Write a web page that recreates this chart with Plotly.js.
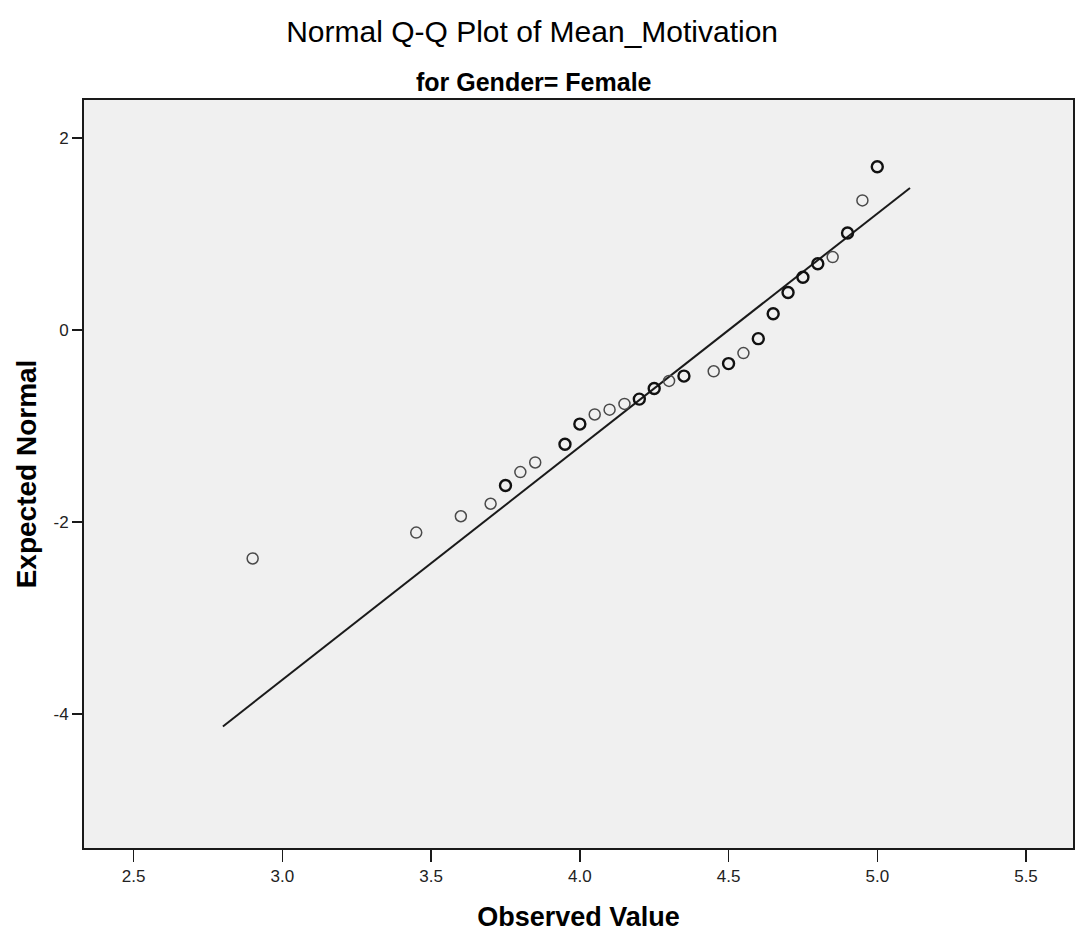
<!DOCTYPE html>
<html>
<head>
<meta charset="utf-8">
<script src="https://cdn.plot.ly/plotly-3.0.1.min.js"></script>
<style>html,body{margin:0;padding:0;background:#fff;}#chart{width:1075px;height:941px;}</style>
</head>
<body>
<div id="chart"></div>
<script>
var observed = [2.90, 3.45, 3.60, 3.70, 3.75, 3.80, 3.85, 3.95, 4.00, 4.05, 4.10, 4.15, 4.20, 4.25,
                4.30, 4.35, 4.45, 4.50, 4.55, 4.60, 4.65, 4.70, 4.75, 4.80, 4.85, 4.90, 4.95, 5.00];
var expected = [-2.38, -2.11, -1.94, -1.81, -1.62, -1.48, -1.38, -1.19, -0.98, -0.88, -0.83, -0.77, -0.72, -0.61,
                -0.53, -0.48, -0.43, -0.35, -0.24, -0.09, 0.17, 0.39, 0.55, 0.69, 0.76, 1.01, 1.35, 1.70];
// 1 = tied values drawn on top of each other (darker circle)
var tied = [0, 0, 0, 0, 1, 0, 0, 1, 1, 0, 0, 0, 1, 1,
            0, 1, 0, 1, 0, 1, 1, 1, 1, 1, 0, 1, 0, 1];
// Reference line end points
var refLineX = [2.80, 5.11];
var refLineY = [-4.13, 1.48];

var xTicks = [2.5, 3.0, 3.5, 4.0, 4.5, 5.0, 5.5];
var xTickLabels = ['2.5', '3.0', '3.5', '4.0', '4.5', '5.0', '5.5'];
var yTicks = [-4, -2, 0, 2];
var yTickLabels = ['-4', '-2', '0', '2'];

var narrow = '"Liberation Sans Narrow", "Arial Narrow", "Liberation Sans", Arial, sans-serif';

var traces = [
  {
    x: refLineX, y: refLineY, mode: 'lines', type: 'scatter',
    line: {color: '#1a1a1a', width: 2}, hoverinfo: 'skip', showlegend: false
  },
  {
    x: observed, y: expected, mode: 'markers', type: 'scatter', showlegend: false,
    marker: {
      symbol: 'circle-open', size: 11,
      color: tied.map(function (t) { return t ? '#111111' : '#4a4a4a'; }),
      line: {
        width: tied.map(function (t) { return t ? 2.4 : 1.5; }),
        color: tied.map(function (t) { return t ? '#111111' : '#4a4a4a'; })
      }
    }
  }
];

var layout = {
  width: 1075, height: 941,
  margin: {l: 84, r: 2, t: 100, b: 93, pad: 0},
  paper_bgcolor: '#ffffff',
  plot_bgcolor: '#f0f0f0',
  title: {
    text: 'Normal Q-Q Plot of Mean_Motivation',
    font: {family: narrow, size: 30, color: '#000'},
    x: 0.495, xanchor: 'center', xref: 'container',
    y: 1 - 31 / 941, yanchor: 'middle', yref: 'container'
  },
  annotations: [{
    text: '<b>for Gender= Female</b>', showarrow: false,
    xref: 'paper', yref: 'paper', x: 0.455, y: 1 + 18 / 748,
    xanchor: 'center', yanchor: 'middle',
    font: {family: narrow, size: 25, color: '#000'}
  }],
  xaxis: {
    range: [2.333, 5.658], tickmode: 'array', tickvals: xTicks, ticktext: xTickLabels,
    showgrid: false, zeroline: false,
    showline: true, mirror: true, linecolor: '#1a1a1a', linewidth: 2,
    ticks: 'outside', ticklen: 12, tickwidth: 1.5, tickcolor: '#1a1a1a',
    tickfont: {family: narrow, size: 17, color: '#222'},
    title: {text: '<b>Observed Value</b>', font: {family: narrow, size: 27, color: '#000'}, standoff: 22}
  },
  yaxis: {
    range: [-5.396, 2.396], tickmode: 'array', tickvals: yTicks, ticktext: yTickLabels,
    showgrid: false, zeroline: false,
    showline: true, mirror: true, linecolor: '#1a1a1a', linewidth: 2,
    ticks: 'outside', ticklen: 10, tickwidth: 1.5, tickcolor: '#1a1a1a',
    tickfont: {family: narrow, size: 17, color: '#222'},
    title: {text: '<b>Expected Normal</b>', font: {family: narrow, size: 28, color: '#000'}, standoff: 9}
  }
};

Plotly.newPlot('chart', traces, layout, {displayModeBar: false, staticPlot: true});
</script>
</body>
</html>
